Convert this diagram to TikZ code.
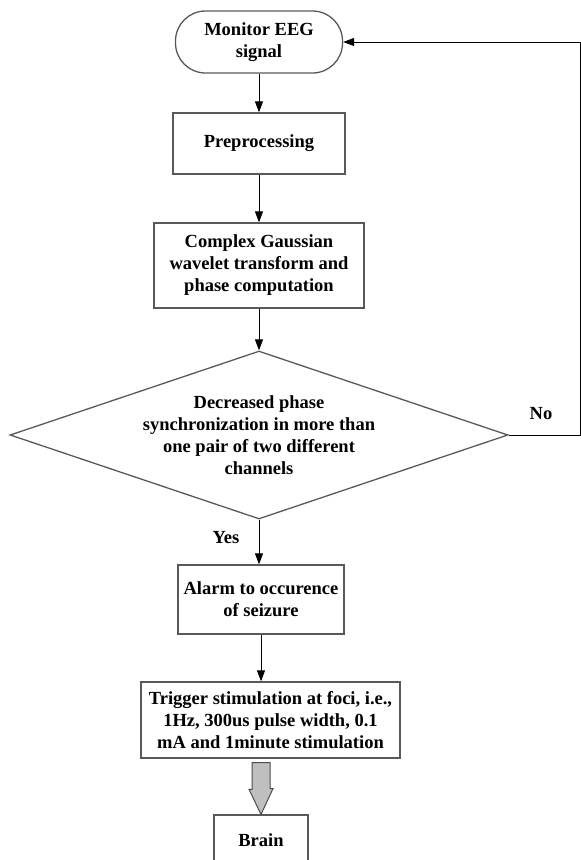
\documentclass[tikz,border=0pt]{standalone}
\usepackage{fontspec}
\setmainfont{Liberation Serif}
\usetikzlibrary{shapes.geometric,arrows.meta}

\tikzset{
  box/.style={draw=black!65,line width=1.3pt,align=center,inner sep=0pt},
  term/.style={box,rounded corners=30pt},
  flow/.style={-{Triangle[length=11pt,width=8pt]},line width=1pt},
  lbl/.style={font=\fontsize{18.5}{22}\selectfont\bfseries}
}

\begin{document}
\begin{tikzpicture}[x=1pt,y=-1pt,font=\fontsize{18.5}{22}\selectfont\bfseries]
\useasboundingbox(0,0)rectangle(581,860);
\node[term,minimum width=167pt,minimum height=62pt](mon)at(259,42){Monitor EEG\\signal};
\node[box,minimum width=172pt,minimum height=61pt](pre)at(259,143.5){Preprocessing};
\node[box,minimum width=210pt,minimum height=85pt](cgw)at(259,265.5){Complex Gaussian\\wavelet transform and\\phase computation};
\node[box,diamond,aspect=2.96,minimum width=498pt,minimum height=168pt](dec)at(259,435){Decreased phase\\synchronization in more than\\one pair of two different\\channels};
\node[box,minimum width=166pt,minimum height=69pt](alm)at(261,599.5){Alarm to occurence\\of seizure};
\node[box,minimum width=259pt,minimum height=76pt](trg)at(270.5,720){Trigger stimulation at foci, i.e.,\\1Hz, 300us pulse width, 0.1\\mA and 1minute stimulation};
\node[box,minimum width=94pt,minimum height=50pt](brn)at(261,840){Brain};
\node[lbl](no)at(541,414){No};
\node[lbl](yes)at(226,538){Yes};
\coordinate(loop)at(580,435);
\draw[flow](mon)--(pre);
\draw[flow](pre)--(cgw);
\draw[flow](cgw.south)--(dec.north);
\draw[flow](dec.south)--(dec.south|-alm.north);
\draw[flow](alm.south)--(alm.south|-trg.north);
\draw[flow](dec.east)--(loop)|-(mon.east);
% thick gray arrow into the brain
\coordinate(gtop)at(brn.north|-trg.south);
\draw[line width=1pt,draw=black!70,fill=gray!50](gtop)++(-9,4)--++(18,0)--++(0,26)--++(3,0)--(brn.north)--++(-12,-25)--++(3,0)--cycle;
\end{tikzpicture}
\end{document}
